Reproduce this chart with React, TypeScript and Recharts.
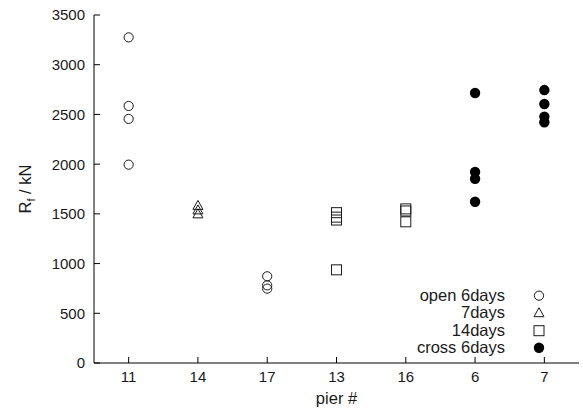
import React from 'react';
import { ScatterChart, Scatter, XAxis, YAxis, Legend } from 'recharts';

const pierLabels = ['11', '14', '17', '13', '16', '6', '7'];
const pierTicks = [1, 2, 3, 4, 5, 6, 7];
const yTicks = [0, 500, 1000, 1500, 2000, 2500, 3000, 3500];

const open6Piers = ['11', '11', '11', '11', '17', '17', '17'];
const open6Rf = [3275, 2585, 2455, 1995, 872, 781, 748];

const d7Piers = ['14', '14', '14'];
const d7Rf = [1585, 1540, 1500];

const d14Piers = ['13', '13', '13', '13', '16', '16', '16'];
const d14Rf = [1512, 1467, 1438, 937, 1550, 1529, 1420];

const cross6Piers = ['6', '6', '6', '6', '7', '7', '7', '7'];
const cross6Rf = [2715, 1922, 1853, 1622, 2745, 2605, 2478, 2421];

const legendLabels = ['open 6days', '7days', '14days', 'cross 6days'];

const FONT = '"Liberation Sans", Arial, Helvetica, sans-serif';
const INK = '#1a1a1a';

const toPoints = (piers: string[], vals: number[]) =>
  piers.map((p, i) => ({ x: pierLabels.indexOf(p) + 1, y: vals[i] }));

const open6Data = toPoints(open6Piers, open6Rf);
const d7Data = toPoints(d7Piers, d7Rf);
const d14Data = toPoints(d14Piers, d14Rf);
const cross6Data = toPoints(cross6Piers, cross6Rf);

const OpenCircle = (p: any) => (
  <circle cx={p.cx} cy={p.cy} r={4.6} fill="none" stroke={INK} strokeWidth={1} />
);
const Triangle = (p: any) => (
  <polygon
    points={`${p.cx},${p.cy - 5} ${p.cx - 5},${p.cy + 4} ${p.cx + 5},${p.cy + 4}`}
    fill="none"
    stroke={INK}
    strokeWidth={1}
  />
);
const Square = (p: any) => (
  <rect x={p.cx - 5} y={p.cy - 5} width={10} height={10} fill="none" stroke={INK} strokeWidth={1} />
);
const FilledCircle = (p: any) => <circle cx={p.cx} cy={p.cy} r={5.2} fill="#000" />;

const shapes = [OpenCircle, Triangle, Square, FilledCircle];

const TICK = 6;

const BottomTick = (p: any) => {
  const v = p.payload.value;
  return (
    <g>
      <line x1={p.x} x2={p.x} y1={p.y} y2={p.y - TICK} stroke="#000" strokeWidth={1} />
      <text x={p.x} y={p.y + 19} textAnchor="middle" fontSize={15} fontFamily={FONT} fill={INK}>
        {pierLabels[v - 1]}
      </text>
    </g>
  );
};
const TopTick = (p: any) => (
  <line x1={p.x} x2={p.x} y1={p.y} y2={p.y + TICK} stroke="#000" strokeWidth={1} />
);
const LeftTick = (p: any) => (
  <g>
    <line x1={p.x} x2={p.x + TICK} y1={p.y} y2={p.y} stroke="#000" strokeWidth={1} />
    <text x={p.x - 9} y={p.y} dy="0.36em" textAnchor="end" fontSize={15} fontFamily={FONT} fill={INK}>
      {p.payload.value}
    </text>
  </g>
);
const RightTick = (p: any) => (
  <line x1={p.x} x2={p.x - TICK} y1={p.y} y2={p.y} stroke="#000" strokeWidth={1} />
);

const YLabel = (props: any) => {
  const vb = props.viewBox || { x: 0, y: 15, width: 94, height: 348 };
  const x = vb.x + 25;
  const y = vb.y + vb.height / 2;
  return (
    <text
      x={x}
      y={y}
      transform={`rotate(-90 ${x} ${y})`}
      textAnchor="middle"
      dy="0.36em"
      fontSize={16.5}
      fontFamily={FONT}
      fill={INK}
    >
      R
      <tspan fontSize={11} dy={4}>f</tspan>
      <tspan dy={-4}> / kN</tspan>
    </text>
  );
};

const XLabel = (props: any) => {
  const vb = props.viewBox || { x: 94, y: 363, width: 485, height: 49 };
  return (
    <text
      x={vb.x + vb.width / 2}
      y={vb.y + 41}
      textAnchor="middle"
      fontSize={16.5}
      fontFamily={FONT}
      fill={INK}
    >
      pier #
    </text>
  );
};

const LegendContent = () => (
  <div style={{ fontFamily: FONT, fontSize: 16.5, color: INK }}>
    {legendLabels.map((lab, i) => {
      const Shape = shapes[i];
      return (
        <div key={lab} style={{ display: 'flex', height: 17.4, alignItems: 'center' }}>
          <div style={{ width: 125, textAlign: 'right', lineHeight: '17.4px', whiteSpace: 'nowrap' }}>{lab}</div>
          <svg width={68} height={17.4} style={{ display: 'block' }}>
            <Shape cx={34} cy={8.7} />
          </svg>
        </div>
      );
    })}
  </div>
);

export default function App() {
  return (
    <div style={{ position: 'absolute', left: 0, top: 0, background: '#fff' }}>
      <ScatterChart width={583} height={412} margin={{ top: 15, right: 4, bottom: 0, left: 0 }}>
        <XAxis
          xAxisId="b"
          type="number"
          dataKey="x"
          domain={[0.5, 7.5]}
          ticks={pierTicks}
          height={49}
          tickSize={0}
          tickMargin={0}
          tickLine={false}
          tick={<BottomTick />}
          axisLine={{ stroke: '#000', strokeWidth: 1 }}
          allowDataOverflow
          label={<XLabel />}
        />
        <XAxis
          xAxisId="t"
          orientation="top"
          type="number"
          domain={[0.5, 7.5]}
          ticks={pierTicks}
          height={0}
          tickSize={0}
          tickMargin={0}
          tickLine={false}
          tick={<TopTick />}
          axisLine={{ stroke: '#000', strokeWidth: 1 }}
          allowDataOverflow
        />
        <YAxis
          yAxisId="l"
          type="number"
          dataKey="y"
          domain={[0, 3500]}
          ticks={yTicks}
          width={94}
          tickSize={0}
          tickMargin={0}
          tickLine={false}
          tick={<LeftTick />}
          axisLine={{ stroke: '#000', strokeWidth: 1 }}
          allowDataOverflow
          label={<YLabel />}
        />
        <YAxis
          yAxisId="r"
          orientation="right"
          type="number"
          domain={[0, 3500]}
          ticks={yTicks}
          width={0}
          tickSize={0}
          tickMargin={0}
          tickLine={false}
          tick={<RightTick />}
          axisLine={{ stroke: '#000', strokeWidth: 1 }}
          allowDataOverflow
        />
        <Legend
          layout="vertical"
          align="center"
          verticalAlign="middle"
          content={<LegendContent />}
          wrapperStyle={{ left: 380, top: 287, width: 193, height: 70 }}
        />
        <Scatter name="open 6days" data={open6Data} xAxisId="b" yAxisId="l" shape={OpenCircle} isAnimationActive={false} />
        <Scatter name="7days" data={d7Data} xAxisId="b" yAxisId="l" shape={Triangle} isAnimationActive={false} />
        <Scatter name="14days" data={d14Data} xAxisId="b" yAxisId="l" shape={Square} isAnimationActive={false} />
        <Scatter name="cross 6days" data={cross6Data} xAxisId="b" yAxisId="l" shape={FilledCircle} isAnimationActive={false} />
      </ScatterChart>
    </div>
  );
}
